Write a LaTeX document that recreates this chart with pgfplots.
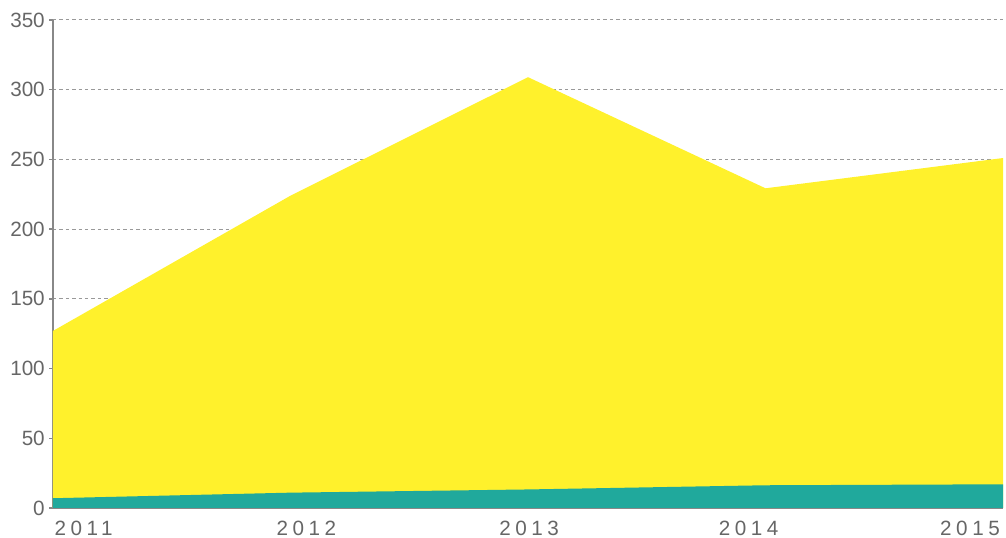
\documentclass[border=0pt]{standalone}
\usepackage{fontspec}
\setmainfont{Liberation Sans}
\newfontfamily\spaced[LetterSpace=22]{Liberation Sans}
\usepackage{pgfplots}
\pgfplotsset{compat=1.18}
\definecolor{yel}{HTML}{FFF12C}
\definecolor{tealc}{HTML}{20A99C}
\definecolor{axgray}{HTML}{888888}
\definecolor{gridgray}{HTML}{999999}
\definecolor{txtgray}{HTML}{666666}
\begin{document}
\begin{tikzpicture}
\begin{axis}[
  scale only axis, width=712.5pt, height=366pt,
  xmin=2011, xmax=2015, ymin=0, ymax=350,
  axis x line*=bottom, axis y line*=left,
  axis line style={axgray, line width=1.5pt},
  ytick={0,50,...,350},
  ymajorgrids,
  grid style={gridgray, line width=0.75pt, dash pattern=on 2.6pt off 2.2pt},
  y tick style={axgray, line width=1pt},
  major tick length=3pt,
  tick align=outside,
  xtick={2011.129,2012.067,2013.005,2013.929,2014.861},
  xticklabels={2011,2012,2013,2014,2015},
  x tick style={draw=none},
  /pgf/number format/assume math mode=true,
  ticklabel style={font=\fontsize{15.5}{18}\selectfont, text=txtgray, inner sep=0pt},
  yticklabel style={anchor=east, xshift=-3pt},
  xticklabel style={font=\fontsize{15.5}{18}\selectfont\spaced, anchor=north, yshift=-6.5pt},
  clip=false,
]
\addplot[draw=none, fill=yel] coordinates {(2011,127) (2012,224) (2013,309) (2014,229.3) (2015,251)} \closedcycle;
\addplot[draw=none, fill=tealc] coordinates {(2011,7) (2012,11) (2013,13.3) (2014,16.3) (2015,17)} \closedcycle;
\end{axis}
\path ([xshift=-39.75pt,yshift=-22.5pt]current axis.south west) rectangle ([xshift=2.25pt,yshift=15pt]current axis.north east);
\end{tikzpicture}
\end{document}
